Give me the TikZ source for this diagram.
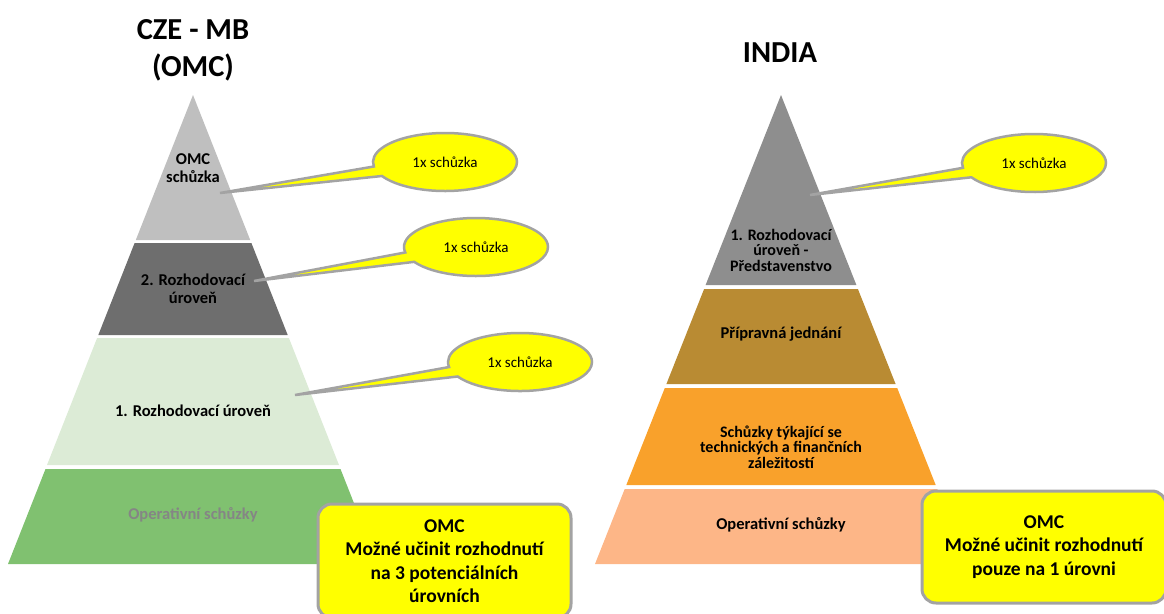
\documentclass[tikz,border=0pt]{standalone}
\usepackage{fontspec}
\setmainfont{Carlito}
\usetikzlibrary{shapes.callouts,shapes.geometric}
\definecolor{lgA}{HTML}{BFBFBF}
\definecolor{lgB}{HTML}{6E6E6E}
\definecolor{lgC}{HTML}{DCEBD6}
\definecolor{lgD}{HTML}{80C170}
\definecolor{rgA}{HTML}{8E8E8E}
\definecolor{rgB}{HTML}{B98B33}
\definecolor{rgC}{HTML}{F9A12B}
\definecolor{rgD}{HTML}{FDB687}
\definecolor{ylw}{HTML}{FFFF00}
\definecolor{bgray}{HTML}{A3A3A3}
\definecolor{txtgray}{HTML}{858585}
\begin{document}
\begin{tikzpicture}[x=1pt,y=-1pt,
  lay/.style={font=\fontsize{16.5}{18.5}\selectfont\bfseries, align=center, inner sep=0pt},
  tight/.style={font=\fontsize{16}{15.5}\selectfont\bfseries, align=center, inner sep=0pt},
  ttl/.style={font=\fontsize{30.5}{37}\selectfont\bfseries, align=center, inner sep=0pt},
  bub/.style={shape=ellipse callout, fill=ylw, draw=bgray, line width=2.5pt,
    minimum width=144pt, minimum height=58pt, inner sep=0pt, callout pointer arc=20,
    font=\fontsize{15}{17}\selectfont},
  omcbox/.style={fill=ylw, draw=bgray, line width=3pt, rounded corners=14pt,
    font=\fontsize{19.5}{23.5}\selectfont\bfseries, align=center, inner sep=0pt}
]
\useasboundingbox (0,0) rectangle (1164,613);

% ---------- left pyramid ----------
\fill[lgA] (193,95) -- (250.2,240) -- (135.8,240) -- cycle;
\fill[lgB] (134.6,243) -- (251.4,243) -- (287.7,335) -- (98.3,335) -- cycle;
\fill[lgC] (97.1,338) -- (288.9,338) -- (339,465) -- (47,465) -- cycle;
\fill[lgD] (45.5,469) -- (340.5,469) -- (378,564) -- (8,564) -- cycle;

\node[ttl] (t1) at (193,50) {CZE - MB\\(OMC)};
\node[lay] (l1) at (193,168) {OMC\\schůzka};
\node[lay] (l2) at (193,289) {2. Rozhodovací\\úroveň};
\node[lay] (l3) at (193,411) {1. Rozhodovací úroveň};
\node[lay, text=txtgray] (l4) at (193,515) {Operativní schůzky};

% ---------- right pyramid ----------
\fill[rgA] (781,95) -- (856.4,285) -- (705.6,285) -- cycle;
\fill[rgB] (704.1,289) -- (857.9,289) -- (895.6,384) -- (666.4,384) -- cycle;
\fill[rgC] (664.8,388) -- (897.2,388) -- (935.7,485) -- (626.3,485) -- cycle;
\fill[rgD] (624.7,489) -- (937.3,489) -- (967,564) -- (595,564) -- cycle;

\node[ttl] (t2) at (780,53) {INDIA};
\node[tight] (r1) at (781,250) {1. Rozhodovací\\úroveň -\\Představenstvo};
\node[lay] (r2) at (781,334) {Přípravná jednání};
\node[tight] (r3) at (781,447) {Schůzky týkající se\\technických a finančních\\záležitostí};
\node[lay] (r4) at (781,525) {Operativní schůzky};

% ---------- callouts ----------
\coordinate (p1) at (220,193);
\coordinate (p2) at (254,281);
\coordinate (p3) at (295,395);
\coordinate (p4) at (810,195);
\node[bub, callout absolute pointer={(p1)}] (b1) at (445,162) {1x schůzka};
\node[bub, callout absolute pointer={(p2)}] (b2) at (476,247) {1x schůzka};
\node[bub, callout absolute pointer={(p3)}] (b3) at (520,362) {1x schůzka};
\node[bub, callout absolute pointer={(p4)}] (b4) at (1034,163) {1x schůzka};

% ---------- boxes ----------
\node[omcbox, minimum width=253pt, minimum height=114pt] (o1) at (444.5,561)
  {OMC\\Možné učinit rozhodnutí\\na 3 potenciálních\\úrovních};
\node[omcbox, minimum width=244pt, minimum height=112pt] (o2) at (1044,547)
  {OMC\\Možné učinit rozhodnutí\\pouze na 1 úrovni};
\end{tikzpicture}
\end{document}
